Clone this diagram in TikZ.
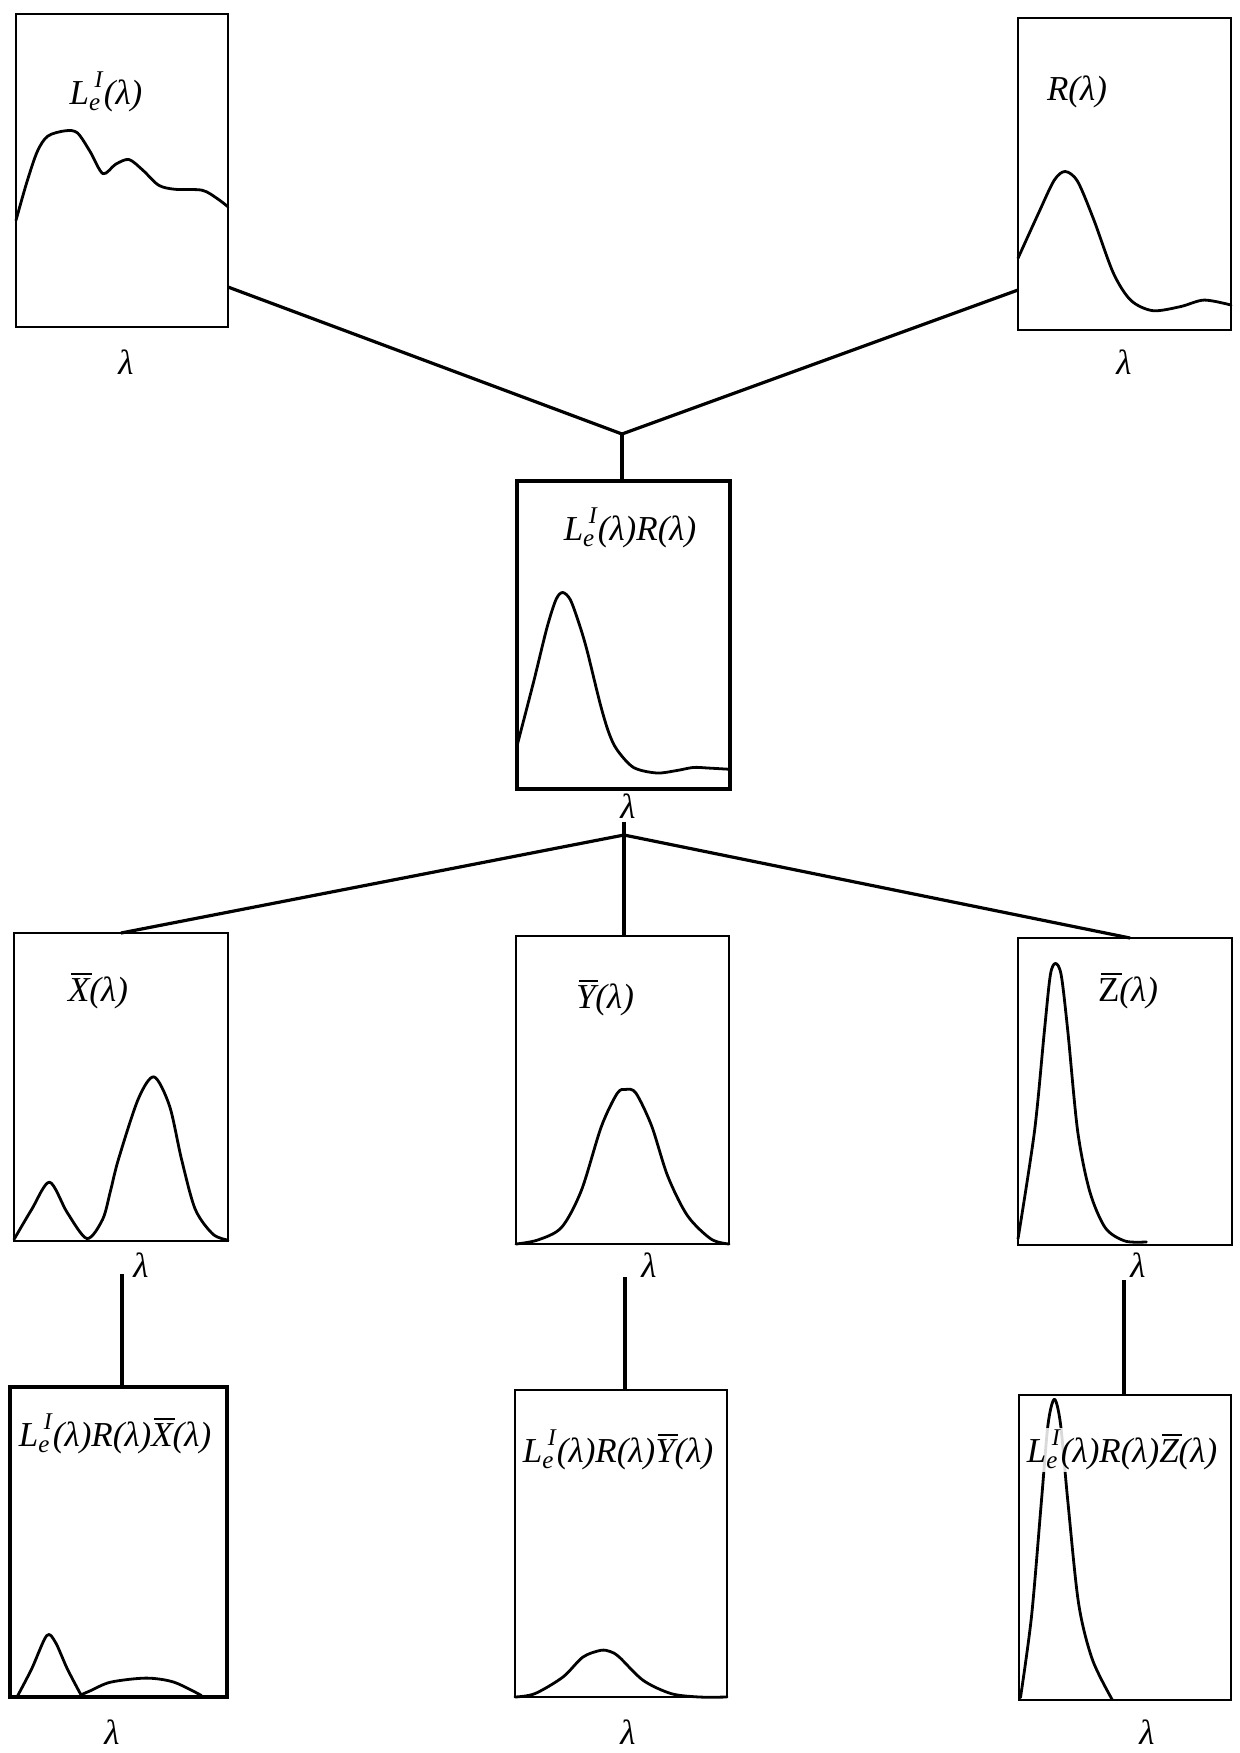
\documentclass[tikz,border=0pt]{standalone}
\usepackage{fontspec}
\setmainfont{Liberation Serif}
\usetikzlibrary{calc}
\newcommand{\LeI}{L\makebox[0.42em][l]{\rlap{\raisebox{-0.34ex}{\fontsize{12.5pt}{12.5pt}\selectfont e}}\kern0.16em\raisebox{1.05ex}{\fontsize{12pt}{12pt}\selectfont I}}}
\newcommand{\ovl}[1]{\setbox0=\hbox{#1}\rlap{\kern0.08em\rule[0.76em]{\wd0}{0.065em}}\box0}
\newcommand{\specbox}[6]{\node[#2, minimum width={(#5-#3)*0.5pt}, minimum height={(#6-#4)*0.5pt}] (#1) at ({(#3+#5)/2},{(#4+#6)/2}) {};}
\begin{document}
\begin{tikzpicture}[x=0.5pt,y=-0.5pt,
 thinbox/.style={draw, line width=1.2pt, inner sep=0pt, outer sep=0pt},
 thickbox/.style={draw, line width=2.2pt, inner sep=0pt, outer sep=0pt},
 curve/.style={line width=1.4pt, line join=round, line cap=round},
 link/.style={line width=1.6pt},
 lbl/.style={font=\fontsize{17.5pt}{20pt}\selectfont\itshape, inner sep=1pt},
 inbox/.style n args={4}{shift={(#1,#4)}, x={({(#3-#1)*0.5pt},0pt)}, y={(0pt,{(#4-#2)*0.5pt})}}
]
\fill[white] (0,0) rectangle (1239,1753);
\useasboundingbox (0,0) rectangle (1239,1753);

% boxes
\specbox{A}{thinbox}{16}{14}{228}{327}
\specbox{B}{thinbox}{1018}{18}{1231}{330}
\specbox{C}{thickbox}{517}{481}{730}{789}
\specbox{X}{thinbox}{14}{933}{228}{1241}
\specbox{Y}{thinbox}{516}{936}{729}{1244}
\specbox{Z}{thinbox}{1018}{938}{1232}{1245}
\specbox{XX}{thickbox}{10}{1387}{227}{1697}
\specbox{YY}{thinbox}{515}{1390}{727}{1697}
\specbox{ZZ}{thinbox}{1019}{1395}{1231}{1700}

% curves
\begin{scope}[inbox={16}{14}{228}{327}]
\draw[curve] plot[smooth] coordinates {(0,0.341) (0.05,0.46) (0.1,0.56) (0.15,0.61) (0.234,0.627) (0.29,0.62) (0.35,0.56) (0.41,0.49) (0.47,0.52) (0.533,0.535) (0.6,0.5) (0.673,0.453) (0.75,0.44) (0.878,0.437) (0.95,0.41) (1,0.384)};
\end{scope}
\begin{scope}[inbox={1018}{18}{1231}{330}]
\draw[curve] plot[smooth] coordinates {(0,0.23) (0.096,0.374) (0.17,0.48) (0.222,0.508) (0.28,0.476) (0.356,0.353) (0.448,0.182) (0.53,0.095) (0.633,0.062) (0.763,0.075) (0.874,0.096) (1,0.08)};
\end{scope}
\begin{scope}[inbox={517}{481}{730}{789}]
\draw[curve] plot[smooth] coordinates {(0,0.14) (0.078,0.348) (0.14,0.522) (0.183,0.615) (0.214,0.638) (0.25,0.615) (0.29,0.54) (0.328,0.452) (0.39,0.278) (0.43,0.185) (0.469,0.128) (0.547,0.07) (0.656,0.052) (0.75,0.06) (0.828,0.07) (0.9,0.068) (1,0.064)};
\end{scope}
\begin{scope}[inbox={14}{933}{228}{1241}]
\draw[curve] plot[smooth] coordinates {(0,0.005) (0.083,0.103) (0.166,0.191) (0.249,0.092) (0.341,0.008) (0.414,0.07) (0.45,0.16) (0.488,0.265) (0.58,0.46) (0.654,0.533) (0.727,0.438) (0.783,0.265) (0.847,0.103) (0.93,0.022) (1,0.003)};
\end{scope}
\begin{scope}[inbox={516}{936}{729}{1244}]
\draw[curve] plot[smooth] coordinates {(0,0) (0.102,0.013) (0.214,0.054) (0.307,0.174) (0.4,0.38) (0.475,0.489) (0.516,0.502) (0.563,0.49) (0.637,0.383) (0.712,0.221) (0.805,0.092) (0.916,0.016) (1,0)};
\end{scope}
\begin{scope}[inbox={1018}{938}{1232}{1245}]
\draw[curve] plot[smooth] coordinates {(0,0.02) (0.077,0.37) (0.123,0.695) (0.151,0.879) (0.175,0.917) (0.202,0.879) (0.233,0.695) (0.279,0.37) (0.335,0.175) (0.408,0.056) (0.5,0.013) (0.6,0.01)};
\end{scope}
\begin{scope}[inbox={10}{1387}{227}{1697}]
\draw[curve] plot[smooth] coordinates {(0.036,0.005) (0.1,0.091) (0.169,0.198) (0.209,0.177) (0.264,0.091) (0.327,0.007)}
  plot[smooth] coordinates {(0.327,0.007) (0.373,0.021) (0.464,0.048) (0.627,0.061) (0.755,0.048) (0.882,0.005)};
\end{scope}
\begin{scope}[inbox={515}{1390}{727}{1697}]
\draw[curve] plot[smooth] coordinates {(0,0) (0.094,0.011) (0.226,0.065) (0.32,0.13) (0.404,0.152) (0.45,0.148) (0.492,0.13) (0.605,0.054) (0.737,0.011) (0.87,0) (1,0)};
\end{scope}
\begin{scope}[inbox={1019}{1395}{1231}{1700}]
\draw[curve] plot[smooth] coordinates {(0.007,0.008) (0.059,0.274) (0.106,0.654) (0.137,0.904) (0.167,0.986) (0.196,0.904) (0.23,0.654) (0.281,0.317) (0.346,0.133) (0.439,0.002)};
\end{scope}

% connectors
\coordinate (J1) at (622,434);
\draw[link] ($(A.south east)+(0,-40)$) -- (J1) -- ($(B.south west)+(0,-40)$);
\draw[link] (J1) -- (J1 |- C.north);
\coordinate (J2) at (624,835);
\coordinate (J2t) at (624,822);
\draw[link] (X.north) -- (J2) -- ($(Z.north)+(5,0)$);
\draw[link] (J2t) -- (J2t |- Y.north);
\coordinate (vx) at (122,1274);
\draw[link] (vx) -- (vx |- XX.north);
\coordinate (vy) at (625,1277);
\draw[link] (vy) -- (vy |- YY.north);
\coordinate (vz) at (1124,1280);
\draw[link] (vz) -- (vz |- ZZ.north);

% titles
\node[lbl] (tA) at (106,92) {\LeI(λ)};
\node[lbl] (tB) at (1077,92) {R(λ)};
\node[lbl] (tC) at (630,528) {\LeI(λ)R(λ)};
\node[lbl] (tX) at (98,991) {\ovl{X}(λ)};
\node[lbl] (tY) at (605,998) {\ovl{Y}(λ)};
\node[lbl] (tZ) at (1128,991) {\ovl{\upshape Z}(λ)};
\node[lbl] (tXX) at (115,1434) {\LeI(λ)R(λ)\ovl{X}(λ)};
\node[lbl] (tYY) at (618,1450) {\LeI(λ)R(λ)\ovl{Y}(λ)};
\node[lbl, fill=white, fill opacity=0.85, text opacity=1] (tZZ) at (1122,1450) {\LeI(λ)R(λ)\ovl{Z}(λ)};

% axis labels
\node[lbl] (lA) at (126,362) {λ};
\node[lbl] (lB) at (1124,362) {λ};
\node[lbl] (lC) at (628,806) {λ};
\node[lbl] (lX) at (141,1265) {λ};
\node[lbl] (lY) at (649,1265) {λ};
\node[lbl] (lZ) at (1138,1265) {λ};
\node[lbl] (lXX) at (112,1732) {λ};
\node[lbl] (lYY) at (628,1732) {λ};
\node[lbl] (lZZ) at (1147,1732) {λ};
\end{tikzpicture}
\end{document}
